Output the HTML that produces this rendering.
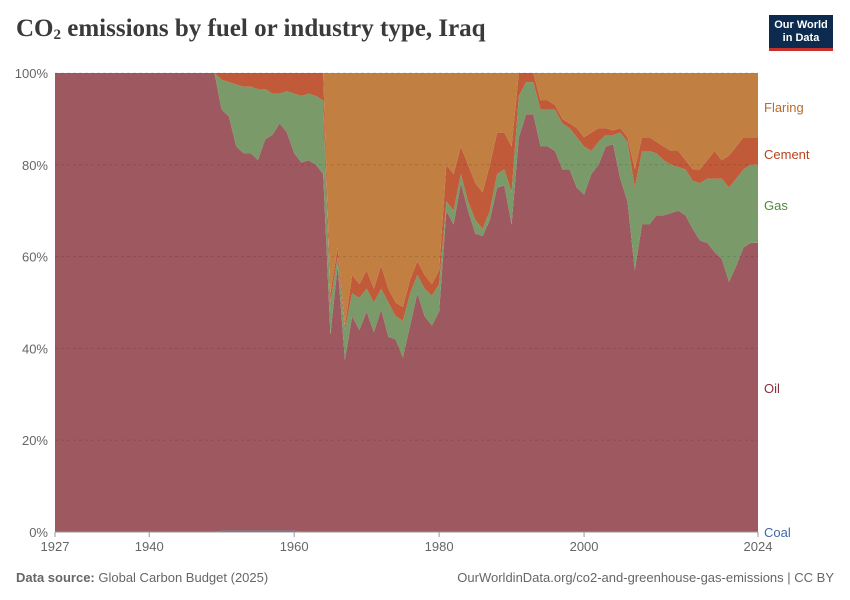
<!DOCTYPE html>
<html><head><meta charset="utf-8">
<style>
body{margin:0;background:#fff;font-family:"Liberation Sans",sans-serif;}
#wrap{position:relative;width:850px;height:600px;overflow:hidden;}
</style></head>
<body>
<div id="wrap">
<div style="position:absolute;left:16px;top:15px;font-family:'Liberation Serif',serif;font-size:25px;font-weight:bold;color:#3a3a3a;">CO<sub style="font-size:15px;vertical-align:-3px">2</sub> emissions by fuel or industry type, Iraq</div>
<div style="position:absolute;left:769px;top:15px;width:64px;height:36px;background:#0d2a4f;border-bottom:3px solid #c8302c;color:#fff;font-size:11px;font-weight:bold;text-align:center;line-height:13px;padding-top:4px;box-sizing:border-box;">Our World<br>in Data</div>
<svg id="chart" width="850" height="600" style="position:absolute;left:0;top:0"></svg>
<div style="position:absolute;left:16px;top:570px;font-size:13px;color:#666;"><b>Data source:</b> Global Carbon Budget (2025)</div>
<div style="position:absolute;right:16px;top:570px;font-size:13px;color:#666;">OurWorldinData.org/co2-and-greenhouse-gas-emissions | CC BY</div>
</div>
<script>
const startYear = 1927;
const oil = [100,100,100,100,100,100,100,100,100,100,100,100,100,100,100,100,100,100,100,100,100,100,100,
92,90.5,84,82.5,82.5,81,85.5,86.5,89,87,82.5,80.5,81,80,78,
43,58,37.5,47,44,48,43.5,48.5,42.5,42,38,45,52,47,45,48,
70,67,76,70,65,64.5,68,75,75.5,67,86,91,91,84,84,83,79,79,75,73.5,
78,80,84,84.5,77,72,57,67,67,69,69,69.5,70,69,66,63.5,63,61,59.5,54.5,58,62,63,63];
const gas = [0,0,0,0,0,0,0,0,0,0,0,0,0,0,0,0,0,0,0,0,0,0,0,
6.5,7.5,13.5,14.5,14.5,15.5,11,9,6.5,9,13,14.5,14.5,15,16,
7,2,6.5,5,7,5,6.5,4.5,7.5,5,8,7,4,6,6.5,6,
2,3,2,2,3,1.5,2,3,3.5,7,9,7,7,8,8,9,10,9,11,10.5,
5,5,2.5,2,10,13,18,16,16,13.5,12,10.5,9.5,10,10.5,12.5,14,16,17.5,20.5,19,17,17,17];
const cement = [0,0,0,0,0,0,0,0,0,0,0,0,0,0,0,0,0,0,0,0,0,0,0,
1.5,2,2.5,3,3,3.5,3.5,4.5,4.5,4,4.5,5,4.5,5,6,
2,2,1,4,3,4,3,5,3,3,3,3,3,3,2.5,3,
8,8,6,8,8,8,10,9,8,10,5,2,2,2,2,1,1,1,2,2,
4,3,1.5,1,1,1,4,3,3,2.5,3,3,3.5,2,2.5,3,4,6,4,7,7,7,6,6];
const flaring = [0,0,0,0,0,0,0,0,0,0,0,0,0,0,0,0,0,0,0,0,0,0,0,
0,0,0,0,0,0,0,0,0,0,0,0,0,0,0,
48,38,55,44,46,43,47,42,47,50,51,45,41,44,46,43,
20,22,16,20,24,26,20,13,13,16,0,0,0,6,6,7,10,11,12,14,
13,12,12,12.5,12,14,21,14,14,15,16,17,17,19,21,21,19,17,19,18,16,14,14,14];
const coal = [0,0,0,0,0,0,0,0,0,0,0,0,0,0,0,0,0,0,0,0,0,0,0,
0.3,0.3,0.3,0.3,0.3,0.3,0.3,0.3,0.3,0.3,0.3,0,0,0,0,
0,0,0,0,0,0,0,0,0,0,0,0,0,0,0,0,
0,0,0,0,0,0,0,0,0,0,0,0,0,0,0,0,0,0,0,0,
0,0,0,0,0,0,0,0,0,0,0,0,0,0,0,0,0,0,0,0,0,0,0,0];
const yTicks = [0,20,40,60,80,100];
const xTicks = [1927,1940,1960,1980,2000,2024];
const seriesNames = ["Coal","Oil","Gas","Cement","Flaring"];

const svg = document.getElementById('chart');
const NS = 'http://www.w3.org/2000/svg';
const x0=55, x1=758, y0=532, y1=73, endYear=2024;
const xs = y => x0 + (y-startYear)/(endYear-startYear)*(x1-x0);
const ys = v => y0 - v/100*(y0-y1);
function mk(tag, attrs){const e=document.createElementNS(NS,tag);for(const k in attrs)e.setAttribute(k,attrs[k]);svg.appendChild(e);return e;}

const series=[coal,oil,gas,cement,flaring];
const colors=['#4c6a9c','#9e5860','#7a9a6a','#c05a38','#c17f42'];
const labelColors=['#3f6aa8','#8a2f3d','#4f8a3a','#b8431f','#b86d2a'];
const n=oil.length;
const totals=[];for(let i=0;i<n;i++){let s=0;series.forEach(a=>s+=a[i]);totals.push(s||1);}
let base=new Array(n).fill(0);
series.forEach((arr,si)=>{
  const top=base.map((b,i)=>b+arr[i]/totals[i]*100);
  let d='';
  for(let i=0;i<n;i++) d+=(i?'L':'M')+xs(startYear+i).toFixed(2)+','+ys(top[i]).toFixed(2);
  for(let i=n-1;i>=0;i--) d+='L'+xs(startYear+i).toFixed(2)+','+ys(base[i]).toFixed(2);
  const p=mk('path',{d:d+'Z',fill:colors[si]});
  
  
  base=top;
});

yTicks.forEach(t=>{
  const g=mk('line',{x1:x0,x2:x1,y1:ys(t),y2:ys(t),stroke:'rgba(0,0,0,0.12)','stroke-dasharray':'3,3'});
  
  
  const l=mk('text',{x:48,y:ys(t)+5,'text-anchor':'end','font-size':13,fill:'#666','font-family':'Liberation Sans'});
  l.textContent=t+'%';
  
  
});

const labY=[532,388,205,154,107];
seriesNames.forEach((nm,i)=>{
  const t=mk('text',{x:764,y:labY[i]+5,'font-size':13,fill:labelColors[i],'font-family':'Liberation Sans'});
  t.textContent=nm;
  
  
});
const ax=mk('line',{x1:x0,x2:x1,y1:y0,y2:y0,stroke:'#999'});


xTicks.forEach(t=>{
  const tk=mk('line',{x1:xs(t),x2:xs(t),y1:y0,y2:y0+5,stroke:'#999'});
  
  
  const l=mk('text',{x:xs(t),y:551,'text-anchor':'middle','font-size':13,fill:'#666','font-family':'Liberation Sans'});
  l.textContent=t;
  
  
});
</script>
</body></html>
